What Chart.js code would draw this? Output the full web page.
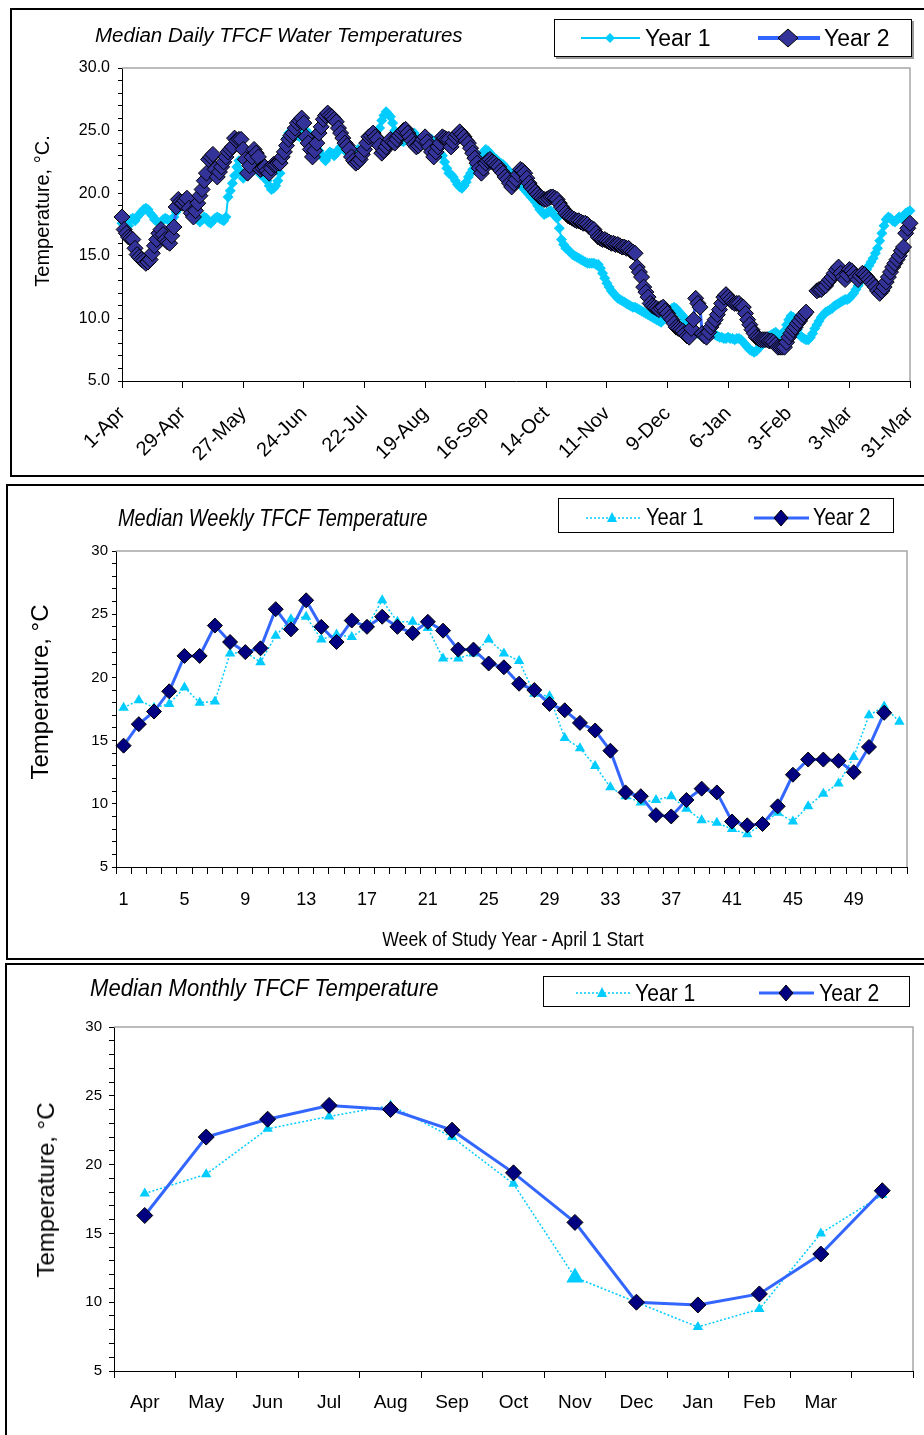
<!DOCTYPE html>
<html>
<head>
<meta charset="utf-8">
<script src="https://cdn.jsdelivr.net/npm/chart.js@4.4.1/dist/chart.umd.min.js"></script>
<style>
  body { margin: 0; background: #fff; width: 924px; height: 1435px; overflow: hidden; position: relative;
         font-family: 'Liberation Sans', Arial, sans-serif; color: #000; }
  .frame { position: absolute; border: 2px solid #000; box-sizing: border-box; }
  .plot { position: absolute; }
  .txt { position: absolute; white-space: nowrap; line-height: 1; transform: translateY(-50%); }
  .vtxt { position: absolute; white-space: nowrap; line-height: 1; transform: translate(-50%, -50%) rotate(-90deg); }
  .ctr { position: absolute; white-space: nowrap; line-height: 1; transform: translate(-50%, -50%); }
  /* the original uses a condensed face; squeeze the regular one */
  .txt.narrow { transform-origin: 0 50%; }
  .legend { position: absolute; border: 1px solid #000; box-sizing: border-box; background: #fff; }
  .legend svg { position: absolute; left: 0; top: 0; }
</style>
</head>
<body>

<div class="frame" style="left:10px;top:8px;width:930px;height:469px"></div>
<div class="frame" style="left:6px;top:484px;width:930px;height:476px"></div>
<div class="frame" style="left:5px;top:963px;width:930px;height:490px"></div>

<div class="plot" style="left:10px;top:8px;width:914px;height:468px"><canvas id="dailyChart"></canvas></div>
<div class="plot" style="left:7px;top:484px;width:917px;height:475px"><canvas id="weeklyChart"></canvas></div>
<div class="plot" style="left:6px;top:964px;width:918px;height:471px"><canvas id="monthlyChart"></canvas></div>

<!-- chart 1 texts -->
<div class="txt" style="left:95px;top:35px;font-size:20.5px;font-style:italic">Median Daily TFCF Water Temperatures</div>
<div class="vtxt" style="left:42px;top:211px;font-size:20px">Temperature, °C.</div>
<div class="legend" style="left:554px;top:19px;width:358px;height:38px;box-shadow:2px 2px 0 #999">
  <svg width="358" height="38">
    <line x1="26" y1="18" x2="85" y2="18" stroke="#00CCFF" stroke-width="2"/>
    <polygon points="50,18 55,13 60,18 55,23" fill="#00CCFF"/>
    <line x1="203" y1="18" x2="265" y2="18" stroke="#3366FF" stroke-width="4"/>
    <polygon points="223,18 233,9 243,18 233,27" fill="#333399" stroke="#000" stroke-width="1"/>
  </svg>
</div>
<div class="txt" style="left:645px;top:38px;font-size:23px">Year 1</div>
<div class="txt" style="left:824px;top:38px;font-size:23px">Year 2</div>

<!-- chart 2 texts -->
<div class="txt narrow" style="left:118px;top:518px;font-size:24px;font-style:italic;transform:translateY(-50%) scaleX(0.83)">Median Weekly TFCF Temperature</div>
<div class="vtxt" style="left:40px;top:692px;font-size:24px">Temperature, °C</div>
<div class="ctr" style="left:513px;top:938px;font-size:21px;transform:translate(-50%, -50%) scaleX(0.84)">Week of Study Year - April 1 Start</div>
<div class="legend" style="left:558px;top:498px;width:336px;height:35px">
  <svg width="336" height="35">
    <line x1="27" y1="19" x2="81" y2="19" stroke="#00CCFF" stroke-width="1.5" stroke-dasharray="2,2"/>
    <polygon points="53,13 48,23 58,23" fill="#00CCFF"/>
    <line x1="195" y1="19" x2="250" y2="19" stroke="#3366FF" stroke-width="3"/>
    <polygon points="215,19 222,11 229,19 222,27" fill="#000080" stroke="#000" stroke-width="1"/>
  </svg>
</div>
<div class="txt narrow" style="left:646px;top:517px;font-size:24px;transform:translateY(-50%) scaleX(0.84)">Year 1</div>
<div class="txt narrow" style="left:813px;top:517px;font-size:24px;transform:translateY(-50%) scaleX(0.84)">Year 2</div>

<!-- chart 3 texts -->
<div class="txt narrow" style="left:90px;top:988px;font-size:24px;font-style:italic;transform:translateY(-50%) scaleX(0.92)">Median Monthly TFCF Temperature</div>
<div class="vtxt" style="left:46px;top:1190px;font-size:24px">Temperature, °C</div>
<div class="legend" style="left:543px;top:976px;width:367px;height:31px">
  <svg width="367" height="31">
    <line x1="32" y1="16" x2="86" y2="16" stroke="#00CCFF" stroke-width="1.5" stroke-dasharray="2,2"/>
    <polygon points="58,10 53,20 63,20" fill="#00CCFF"/>
    <line x1="215" y1="16" x2="270" y2="16" stroke="#3366FF" stroke-width="3"/>
    <polygon points="235,16 242,8 249,16 242,24" fill="#000080" stroke="#000" stroke-width="1"/>
  </svg>
</div>
<div class="txt narrow" style="left:635px;top:993px;font-size:24px;transform:translateY(-50%) scaleX(0.88)">Year 1</div>
<div class="txt narrow" style="left:819px;top:993px;font-size:24px;transform:translateY(-50%) scaleX(0.88)">Year 2</div>

<script>
// ---- data ----
// daily medians, 1-Apr .. 31-Mar (365 days), one line per week
var year1Daily = [
  17.6, 17.5, 17.8, 17.4, 17.9, 18.0, 17.8,
  18.1, 18.3, 18.5, 18.7, 18.8, 18.7, 18.4,
  18.2, 17.9, 17.8, 17.6, 17.7, 17.9, 18.0,
  17.9, 17.8, 17.9, 18.1, 18.5, 18.8, 19.0,
  19.2, 19.3, 19.1, 18.8, 18.5, 18.3, 18.0,
  17.9, 17.7, 17.9, 18.1, 18.0, 17.7, 17.6,
  17.8, 18.0, 18.1, 18.0, 17.9, 17.8, 18.1,
  19.7, 20.2, 20.8, 21.4, 22.1, 22.6, 21.7,
  21.2, 21.5, 21.7, 21.9, 22.0, 22.2, 22.0,
  21.8, 21.5, 21.4, 21.2, 21.0, 20.6, 20.3,
  20.4, 20.6, 21.0, 21.6, 22.5, 23.6, 24.4,
  24.8, 24.9, 25.0, 24.8, 24.6, 24.5, 24.7,
  24.9, 25.0, 24.8, 24.5, 24.2, 23.9, 23.6,
  23.4, 23.1, 22.8, 22.6, 22.9, 23.3, 23.2,
  23.0, 23.2, 23.5, 23.7, 23.6, 23.4, 23.3,
  23.1, 23.0, 23.2, 23.3, 23.5, 23.4, 23.2,
  23.5, 24.0, 24.3, 24.6, 24.2, 24.0, 24.4,
  25.2, 25.8, 26.2, 26.5, 26.3, 26.1, 25.6,
  25.0, 24.6, 24.4, 24.2, 24.1, 24.3, 24.5,
  24.4, 24.6, 24.8, 24.5, 24.3, 24.1, 23.9,
  24.0, 24.2, 24.4, 24.3, 24.0, 23.7, 23.5,
  23.2, 23.0, 22.5, 22.0, 21.6, 21.5, 21.3,
  21.0, 20.7, 20.5, 20.4, 20.6, 20.9, 21.3,
  21.6, 21.9, 22.2, 22.4, 22.7, 23.0, 23.3,
  23.5, 23.4, 23.2, 23.0, 22.8, 22.7, 22.5,
  22.4, 22.3, 22.1, 21.9, 21.7, 21.5, 21.3,
  21.1, 20.9, 20.7, 20.5, 20.3, 20.1, 19.9,
  19.7, 19.5, 19.3, 19.0, 18.7, 18.5, 18.3,
  18.4, 18.5, 18.6, 18.4, 18.2, 18.0, 17.2,
  16.3, 15.9, 15.6, 15.5, 15.3, 15.1, 15.0,
  14.9, 14.8, 14.7, 14.6, 14.5, 14.4, 14.4,
  14.4, 14.4, 14.3, 14.3, 14.0, 13.6, 13.2,
  12.8, 12.5, 12.2, 12.0, 11.8, 11.6, 11.5,
  11.4, 11.3, 11.2, 11.1, 11.0, 10.9, 10.9,
  10.8, 10.7, 10.6, 10.5, 10.4, 10.3, 10.2,
  10.1, 10.0, 9.9, 9.8, 9.7, 9.9, 10.2,
  10.4, 10.6, 10.8, 10.9, 10.8, 10.6, 10.4,
  10.2, 9.9, 9.7, 9.5, 9.3, 9.1, 8.9,
  8.8, 8.7, 8.6, 8.5, 8.6, 8.7, 8.8,
  8.8, 8.7, 8.6, 8.5, 8.5, 8.4, 8.4,
  8.5, 8.4, 8.4, 8.3, 8.4, 8.4, 8.3,
  8.1, 7.9, 7.7, 7.5, 7.4, 7.3, 7.4,
  7.6, 7.8, 8.0, 8.2, 8.4, 8.6, 8.7,
  8.8, 8.9, 8.7, 8.5, 8.6, 9.0, 9.5,
  9.9, 10.2, 10.1, 9.7, 9.1, 8.7, 8.5,
  8.4, 8.3, 8.3, 8.5, 8.8, 9.2, 9.5,
  9.8, 10.1, 10.3, 10.5, 10.6, 10.7, 10.8,
  11.0, 11.1, 11.2, 11.3, 11.4, 11.5, 11.5,
  11.6, 11.8, 12.0, 12.3, 12.6, 12.9, 13.2,
  13.5, 13.9, 14.2, 14.5, 14.8, 15.2, 15.6,
  16.2, 16.8, 17.4, 17.9, 18.1, 18.0, 17.8,
  17.7, 17.9, 18.1, 18.0, 18.2, 18.4, 18.5,
  18.6
];

var year2Daily = [
  18.1, 17.1, 16.8, 16.5, 16.4, 16.3, 15.6,
  15.1, 14.9, 14.7, 14.6, 14.4, 14.5, 14.7,
  15.2, 15.8, 16.3, 16.8, 17.1, 16.7, 16.3,
  16.1, 16.0, 16.6, 17.3, 18.9, 19.5, 19.3,
  19.2, 19.4, 19.6, 18.8, 18.4, 18.1, 18.6,
  19.2, 19.8, 20.3, 21.0, 21.6, 22.7, 22.9,
  23.1, 21.9, 21.3, 21.7, 22.1, 22.5, 22.9,
  23.3, 23.5, 23.7, 24.4, 24.2, 24.3, 24.3,
  23.5, 22.7, 21.6, 22.2, 22.9, 23.5, 23.2,
  22.9, 21.9, 22.0, 22.1, 21.8, 21.6, 22.0,
  22.3, 22.3, 22.4, 22.4, 22.9, 23.3, 23.8,
  24.3, 24.6, 24.8, 25.2, 25.6, 25.8, 26.0,
  25.6, 24.5, 24.0, 23.5, 22.9, 23.4, 24.0,
  24.8, 25.3, 25.9, 26.2, 26.4, 26.2, 26.1,
  25.9, 25.7, 25.2, 24.8, 24.4, 24.0, 23.8,
  23.5, 22.9, 22.6, 22.4, 22.5, 22.7, 23.1,
  23.5, 24.0, 24.5, 24.6, 24.8, 24.5, 24.3,
  23.8, 23.2, 23.4, 23.7, 24.0, 24.3, 24.1,
  24.0, 24.3, 24.6, 24.8, 25.0, 25.1, 24.8,
  24.5, 24.2, 23.9, 23.7, 23.8, 24.0, 24.3,
  24.5, 24.1, 23.7, 23.3, 22.9, 23.3, 23.7,
  24.0, 24.5, 24.4, 24.3, 24.3, 23.7, 24.1,
  24.5, 24.7, 24.9, 24.7, 24.5, 24.2, 24.0,
  23.6, 23.2, 22.8, 22.4, 22.0, 21.6, 22.0,
  22.4, 22.6, 22.7, 22.5, 22.4, 22.2, 22.1,
  21.8, 21.6, 21.3, 21.1, 20.8, 20.5, 20.8,
  21.1, 21.5, 21.9, 21.8, 21.6, 21.2, 20.8,
  20.5, 20.3, 20.1, 19.9, 19.7, 19.6, 19.5,
  19.5, 19.6, 19.7, 19.7, 19.6, 19.5, 19.2,
  18.9, 18.7, 18.4, 18.2, 18.1, 18.0, 17.9,
  17.8, 17.8, 17.7, 17.6, 17.6, 17.5, 17.3,
  17.2, 17.1, 16.8, 16.5, 16.4, 16.3, 16.3,
  16.2, 16.1, 16.0, 16.0, 15.9, 15.9, 15.8,
  15.7, 15.7, 15.6, 15.6, 15.4, 15.3, 15.2,
  14.1, 13.7, 13.3, 12.5, 12.1, 11.7, 11.2,
  11.0, 10.9, 10.8, 10.7, 10.8, 10.9, 10.6,
  10.4, 10.1, 9.9, 9.6, 9.3, 9.2, 9.1,
  9.0, 8.8, 8.6, 8.5, 9.2, 9.9, 11.6,
  11.2, 10.9, 8.8, 8.6, 8.5, 8.9, 9.3,
  9.6, 9.9, 10.3, 10.7, 11.2, 11.7, 11.9,
  11.7, 11.5, 11.3, 11.2, 11.2, 11.2, 11.0,
  10.9, 10.4, 9.9, 9.5, 9.1, 8.8, 8.5,
  8.4, 8.3, 8.3, 8.3, 8.3, 8.2, 8.2,
  8.1, 7.9, 7.7, 7.7, 7.7, 7.7, 8.1,
  8.5, 8.8, 9.1, 9.3, 9.6, 9.8, 10.1,
  10.3, 10.5, null, null, null, null, 12.2,
  12.3, 12.3, 12.5, 12.6, 12.9, 13.1, 13.3,
  13.6, 13.9, 14.1, 13.6, 13.3, 13.1, 13.5,
  13.9, 13.8, 13.6, 13.3, 13.1, 13.4, 13.6,
  13.5, 13.3, 13.1, 12.9, 12.7, 12.5, 12.2,
  12.0, 12.2, 12.5, 12.9, 13.3, 13.7, 14.1,
  14.4, 14.7, 15.0, 15.4, 15.7, 16.8, 17.2,
  17.6
];

// every 28th day gets a label on the daily chart
var dailyTickLabels = ['1-Apr', '29-Apr', '27-May', '24-Jun', '22-Jul', '19-Aug', '16-Sep',
                       '14-Oct', '11-Nov', '9-Dec', '6-Jan', '3-Feb', '3-Mar', '31-Mar'];

// weekly medians, week 1 = first week of April
var weekLabels = Array.from({ length: 52 }, (_, i) => String(i + 1));
var year1Weekly = [17.6, 18.2, 17.6, 17.9, 19.2, 18.0, 18.1, 21.9, 22.0, 21.2, 23.3, 24.6, 24.8,
                   23.0, 23.4, 23.2, 24.0, 26.1, 24.4, 24.4, 23.9, 21.5, 21.5, 21.9, 23.0, 21.9,
                   21.3, 18.7, 18.5, 15.2, 14.4, 13.0, 11.3, 10.6, 10.1, 10.3, 10.6, 9.6, 8.7,
                   8.5, 8.0, 7.6, 8.4, 9.3, 8.6, 9.8, 10.8, 11.6, 13.7, 17.0, 17.7, 16.5];
var year2Weekly = [14.6, 16.3, 17.3, 18.9, 21.7, 21.7, 24.1, 22.8, 22.0, 22.3, 25.4, 23.8, 26.1,
                   24.0, 22.8, 24.5, 24.0, 24.8, 24.0, 23.5, 24.4, 23.7, 22.2, 22.2, 21.1, 20.8,
                   19.5, 19.0, 17.9, 17.4, 16.4, 15.8, 14.2, 10.9, 10.6, 9.1, 9.0, 10.3, 11.2,
                   10.9, 8.6, 8.3, 8.4, 9.8, 12.3, 13.5, 13.5, 13.4, 12.5, 14.5, 17.2];

// monthly medians (13th slot has no label)
var monthLabels = ['Apr', 'May', 'Jun', 'Jul', 'Aug', 'Sep', 'Oct', 'Nov', 'Dec', 'Jan', 'Feb', 'Mar', ''];
var year1Monthly = [17.9, 19.3, 22.6, 23.5, 24.3, 22.0, 18.6, 11.8, 10.0, 8.2, 9.5, 15.0, 17.8];
var year2Monthly = [16.3, 22.0, 23.3, 24.3, 24.0, 22.5, 19.4, 15.8, 10.0, 9.8, 10.6, 13.5, 18.1];

// ---- styling ----
var ARIAL = "'Liberation Sans', Arial, sans-serif";
var CYAN = '#00CCFF';
var BLUE = '#3366FF';

// gray line along top and right of the plot area, like the Excel plot frame
var plotFrame = {
    id: 'plotFrame',
    beforeDatasetsDraw(chart) {
        var a = chart.chartArea;
        var c = chart.ctx;
        c.save();
        c.strokeStyle = '#a6a6a6';
        c.lineWidth = 1.5;
        c.beginPath();
        c.moveTo(a.left, a.top);
        c.lineTo(a.right, a.top);
        c.lineTo(a.right, a.bottom);
        c.stroke();
        c.restore();
    }
};

function tempAxis(width, fmt, font, pad, tickLen) {
    return {
        min: 5, max: 30,
        ticks: {
            stepSize: 1, autoSkip: false, padding: pad, color: '#000', font: font,
            callback: v => (v % 5 === 0 ? fmt(v) : '')
        },
        grid: { drawOnChartArea: false, tickLength: tickLen, color: '#000' },
        border: { color: '#000', width: 1 },
        afterFit: s => { s.width = width; }
    };
}

// fixed height for the bottom axis; labels may hang past the plot edges
function fitBottom(height) {
    return s => {
        s.height = height;
        s.paddingLeft = 0;
        s.paddingRight = 0;
    };
}

function baseOptions(padding, scales) {
    return {
        responsive: true,
        maintainAspectRatio: false,
        animation: false,
        layout: { padding: padding },
        plugins: { legend: { display: false }, tooltip: { enabled: false }, title: { display: false } },
        scales: scales
    };
}

// ---- chart 1: daily ----
new Chart(document.getElementById('dailyChart'), {
    type: 'line',
    data: {
        datasets: [
            {
                label: 'Year 1',
                data: year1Daily.map((v, i) => ({ x: i, y: v })),
                borderColor: CYAN, borderWidth: 2,
                pointStyle: 'rectRot', pointRadius: 5.5,
                pointBackgroundColor: CYAN, pointBorderWidth: 0,
                clip: false, order: 1
            },
            {
                label: 'Year 2',
                data: year2Daily.map((v, i) => ({ x: i, y: v })),
                borderColor: BLUE, borderWidth: 3,
                pointStyle: 'rectRot', pointRadius: 8,
                pointBackgroundColor: '#333399', pointBorderColor: '#000', pointBorderWidth: 1,
                spanGaps: false, clip: false, order: 0
            }
        ]
    },
    options: baseOptions({ top: 60, right: 14, left: 0, bottom: 0 }, {
        x: {
            type: 'linear', min: 0, max: 364,
            ticks: {
                stepSize: 28, autoSkip: false, maxRotation: 45, minRotation: 45, padding: 14,
                color: '#000', font: { family: ARIAL, size: 20 },
                callback: v => dailyTickLabels[v / 28]
            },
            grid: { drawOnChartArea: false, tickLength: 7, color: '#000' },
            border: { color: '#000', width: 1 },
            afterFit: fitBottom(95)
        },
        y: tempAxis(112, v => v.toFixed(1), { family: ARIAL, size: 16 }, 8, 4)
    }),
    plugins: [plotFrame]
});

// ---- chart 2: weekly ----
new Chart(document.getElementById('weeklyChart'), {
    type: 'line',
    data: {
        labels: weekLabels,
        datasets: [
            {
                label: 'Year 1', data: year1Weekly,
                borderColor: CYAN, borderWidth: 1.5, borderDash: [2, 2],
                pointStyle: 'triangle', pointRadius: 6,
                pointBackgroundColor: CYAN, pointBorderWidth: 0,
                clip: false, order: 1
            },
            {
                label: 'Year 2', data: year2Weekly,
                borderColor: BLUE, borderWidth: 3,
                pointStyle: 'rectRot', pointRadius: 7.5,
                pointBackgroundColor: '#000080', pointBorderColor: '#000', pointBorderWidth: 1,
                clip: false, order: 0
            }
        ]
    },
    options: baseOptions({ top: 67, right: 17, left: 0, bottom: 0 }, {
        x: {
            type: 'category', offset: true,
            ticks: {
                autoSkip: false, maxRotation: 0, padding: 15, color: '#000',
                font: { family: ARIAL, size: 18 },
                callback: (v, i) => (i % 4 === 0 ? weekLabels[i] : '')
            },
            grid: { drawOnChartArea: false, offset: true, tickLength: 7, color: '#000' },
            border: { color: '#000', width: 1 },
            afterFit: fitBottom(92)
        },
        y: tempAxis(109, v => String(v), { family: ARIAL, size: 15 }, 4, 4)
    }),
    plugins: [plotFrame]
});

// ---- chart 3: monthly ----
new Chart(document.getElementById('monthlyChart'), {
    type: 'line',
    data: {
        labels: monthLabels,
        datasets: [
            {
                label: 'Year 1', data: year1Monthly,
                borderColor: CYAN, borderWidth: 1.5, borderDash: [2, 2],
                pointStyle: 'triangle',
                pointRadius: ctx => (ctx.dataIndex === 7 ? 10 : 6),
                pointBackgroundColor: CYAN, pointBorderWidth: 0,
                clip: false, order: 1
            },
            {
                label: 'Year 2', data: year2Monthly,
                borderColor: BLUE, borderWidth: 3,
                pointStyle: 'rectRot', pointRadius: 8,
                pointBackgroundColor: '#000080', pointBorderColor: '#000', pointBorderWidth: 1,
                clip: false, order: 0
            }
        ]
    },
    options: baseOptions({ top: 63, right: 11, left: 0, bottom: 0 }, {
        x: {
            type: 'category', offset: true,
            ticks: {
                autoSkip: false, maxRotation: 0, padding: 13, color: '#000',
                font: { family: ARIAL, size: 19 }
            },
            grid: { drawOnChartArea: false, offset: true, tickLength: 7, color: '#000' },
            border: { color: '#000', width: 1 },
            afterFit: fitBottom(64)
        },
        y: tempAxis(108, v => String(v), { family: ARIAL, size: 15 }, 7, 5)
    }),
    plugins: [plotFrame]
});
</script>
</body>
</html>
